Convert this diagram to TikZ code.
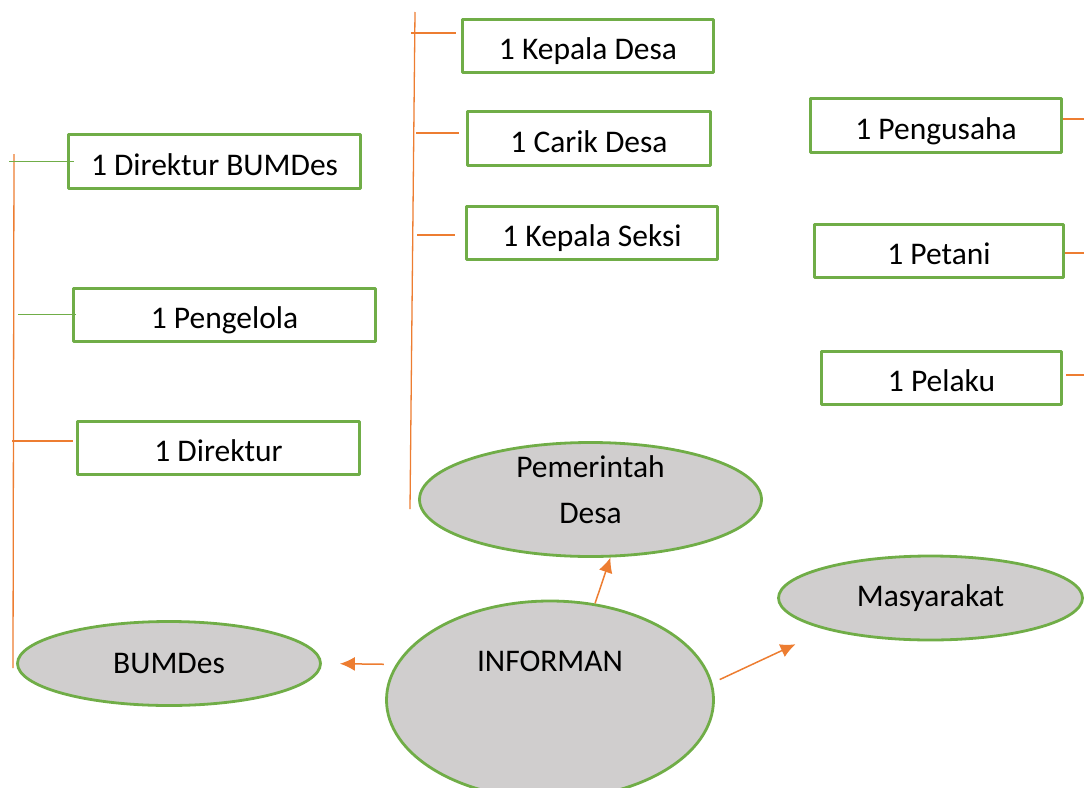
\documentclass[tikz,border=0pt]{standalone}
\usepackage{fontspec}
\setmainfont{Carlito}
\usetikzlibrary{arrows.meta}
\usetikzlibrary{shapes.geometric}
\definecolor{hijau}{HTML}{70AD47}
\definecolor{oranye}{HTML}{ED7D31}
\definecolor{abu}{HTML}{D0CECE}

\begin{document}
\begin{tikzpicture}[x=1pt,y=-1pt,>={Latex[length=15pt,width=14pt]},line join=bevel,
  font=\fontsize{31.5}{46}\selectfont,
  kotak/.style={draw=hijau,line width=3pt,fill=white,inner sep=0pt,text height=30pt,text depth=3pt},
  elips/.style={ellipse,draw=hijau,line width=2.8pt,fill=abu,inner sep=0pt},
  garis/.style={draw=oranye,line width=1.3pt},
  garishijau/.style={draw=hijau,line width=1pt},
  panah/.style={draw=oranye,line width=1.5pt,->}]
\useasboundingbox (0,0) rectangle (1084,787);
%%
\node (node_kd) at (588,46) [kotak,minimum width=251,minimum height=53] {1 Kepala Desa};
  \node (node_cd) at (589,138.5) [kotak,minimum width=243,minimum height=54] {1 Carik Desa};
  \node (node_ks) at (592,233) [kotak,minimum width=251,minimum height=53] {1 Kepala Seksi};
  \node (node_db) at (214.5,161.5) [kotak,minimum width=292,minimum height=54] {1 Direktur BUMDes};
  \node (node_pg) at (224.5,315) [kotak,minimum width=302,minimum height=53] {1 Pengelola};
  \node (node_dr) at (218.5,448) [kotak,minimum width=282,minimum height=53] {1 Direktur};
  \node (node_pu) at (936,125.5) [kotak,minimum width=251,minimum height=54] {1 Pengusaha};
  \node (node_pt) at (939,251) [kotak,minimum width=249,minimum height=53] {1 Petani};
  \node (node_pl) at (941.5,378) [kotak,minimum width=240,minimum height=53] {1 Pelaku};
%
\node (node_pem) at (590.5,499.5) [elips,minimum width=342,minimum height=114,
    label={[align=center,yshift=10pt]center:{Pemerintah\\Desa}}] {};
  \node (node_mas) at (930.5,598) [elips,minimum width=304,minimum height=84] {Masyarakat};
  \node (node_bum) at (169,663.5) [elips,minimum width=303,minimum height=84] {BUMDes};
  \node (node_inf) at (550,700) [elips,minimum width=327,minimum height=198,
    label={[yshift=39pt]center:INFORMAN}] {};
%
\coordinate (kiri_atas) at (14,154);
  \coordinate (kiri_bawah) at (13,668);
  \coordinate (tengah_atas) at (415,12);
  \coordinate (tengah_bawah) at (410,509);
  \draw [garis] (kiri_atas) -- (kiri_bawah);
  \draw [garis] (tengah_atas) -- (tengah_bawah);
  \coordinate (t_db) at (9,161);
  \coordinate (t_pg) at (18,314);
  \coordinate (t_dr) at (12,441);
  \draw [garishijau,shorten >=-7pt] (t_db) -- (t_db -| node_db.west);
  \draw [garishijau,shorten >=-4pt] (t_pg) -- (t_pg -| node_pg.west);
  \draw [garis,shorten >=3pt] (t_dr) -- (t_dr -| node_dr.west);
  \coordinate (t_kd) at (411,33);
  \coordinate (t_cd) at (416,133);
  \coordinate (t_ks) at (417,235);
  \draw [garis,shorten >=5pt] (t_kd) -- (t_kd -| node_kd.west);
  \draw [garis,shorten >=7pt] (t_cd) -- (t_cd -| node_cd.west);
  \draw [garis,shorten >=10pt] (t_ks) -- (t_ks -| node_ks.west);
  \coordinate (t_pu) at (1084,119);
  \coordinate (t_pt) at (1084,253);
  \coordinate (t_pl) at (1084,375);
  \draw [garis] (t_pu -| node_pu.east) -- (t_pu);
  \draw [garis] (t_pt -| node_pt.east) -- (t_pt);
  \draw [garis,shorten <=3pt] (t_pl -| node_pl.east) -- (t_pl);
%
\draw [panah] (node_inf.65) -- (node_pem.-71);
  \draw [panah,shorten <=12pt,shorten >=18pt] (node_inf.167) -- (node_bum.east);
  \draw [panah,shorten <=8pt,shorten >=34pt] (node_inf.6) -- (node_mas.197);
%
\end{tikzpicture}
\end{document}
